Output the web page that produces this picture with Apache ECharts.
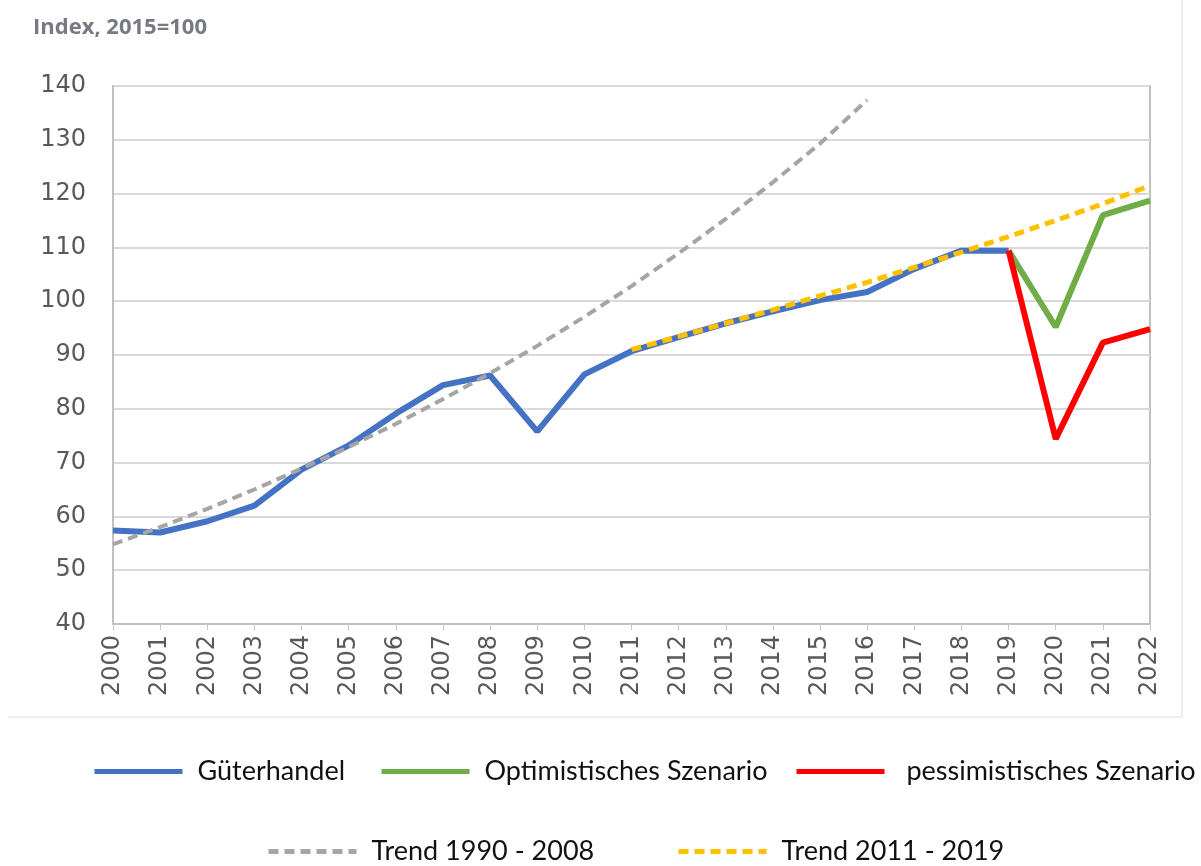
<!DOCTYPE html>
<html><head><meta charset="utf-8">
<script src="https://cdn.jsdelivr.net/npm/echarts@6/dist/echarts.min.js"></script>
<style>html,body{margin:0;padding:0;background:#fff}#c{width:1201px;height:866px}</style>
</head><body><div id="c"></div>
<script>
const years = ['2000','2001','2002','2003','2004','2005','2006','2007','2008','2009','2010','2011','2012','2013','2014','2015','2016','2017','2018','2019','2020','2021','2022'];
const gueterhandel = [57.4,57.0,59.1,62.0,68.7,73.2,79.1,84.4,86.2,75.8,86.4,90.7,93.3,95.9,98.1,100.2,101.7,106.0,109.4,109.4];
const optimistischYears = ['2019','2020','2021','2022'];
const optimistisch = [109.4,95.2,116.0,118.7];
const pessimistischYears = ['2019','2020','2021','2022'];
const pessimistisch = [109.4,74.4,92.3,94.8];
const trend1Years = ['2000','2001','2002','2003','2004','2005','2006','2007','2008','2009','2010','2011','2012','2013','2014','2015','2016'];
const trend1 = [54.8,58.0,61.4,65.0,68.9,72.9,77.2,81.8,86.6,91.7,97.1,102.8,108.9,115.3,122.1,129.3,137.4];
const trend2Years = ['2011','2012','2013','2014','2015','2016','2017','2018','2019','2020','2021','2022'];
const trend2 = [91.0,93.4,95.9,98.4,101.0,103.5,106.3,109.1,112.0,115.0,118.1,121.5];
const yTicks = {min:40, max:140, interval:10};
const seriesNames = ['Güterhandel','Optimistisches Szenario',' pessimistisches Szenario','Trend 1990 - 2008','Trend 2011 - 2019'];

function pairs(ys, vs){ return ys.map((y,i)=>[y, vs[i]]); }
const legendFont = 'Lato, "Open Sans", sans-serif';
const axisFont = '"DejaVu Sans", sans-serif';

const legendPos = [[92,758],[379,758],[794,758],[266,838],[676,838]];
const legends = seriesNames.map((n,i)=>({
  data:[n], left:legendPos[i][0], top:legendPos[i][1], padding:0, itemWidth:88, itemHeight:14,
  itemStyle:{color:'rgba(0,0,0,0)', borderColor:'rgba(0,0,0,0)', borderWidth:0, opacity:0},
  lineStyle:{width:5},
  textStyle:{fontSize:27, color:'#111', fontFamily:legendFont, padding:[0,0,0,10]}
}));

const chart = echarts.init(document.getElementById('c'), null, {renderer:'canvas'});
chart.setOption({
  animation:false,
  backgroundColor:'#ffffff',
  title:{text:'Index, 2015=100', left:28, top:12, textStyle:{fontSize:22, fontWeight:'bold', color:'#777a80', fontFamily:'"Open Sans", sans-serif'}},
  grid:{left:113, right:51, top:86, bottom:242, show:true, borderColor:'#c0c0c0', borderWidth:2, backgroundColor:'transparent'},
  legend:legends,
  xAxis:{type:'category', data:years, boundaryGap:false,
    axisLine:{show:true, lineStyle:{color:'#c0c0c0', width:2}},
    axisTick:{show:true, length:6, lineStyle:{color:'#c8c8c8'}},
    axisLabel:{rotate:90, fontSize:24, color:'#595959', margin:11, fontFamily:axisFont, interval:0},
    splitLine:{show:false}},
  yAxis:{type:'value', min:yTicks.min, max:yTicks.max, interval:yTicks.interval,
    axisLine:{show:true, lineStyle:{color:'#c0c0c0', width:2}},
    axisTick:{show:false},
    axisLabel:{fontSize:24, color:'#595959', margin:27, fontFamily:axisFont},
    splitLine:{show:true, lineStyle:{color:'#d9d9d9', width:2}}},
  series:[
    {name:seriesNames[0], type:'line', data:pairs(years.slice(0,gueterhandel.length), gueterhandel), showSymbol:false, symbol:'none',
     lineStyle:{color:'#4472c4', width:6}, itemStyle:{color:'#4472c4'}, z:2},
    {name:seriesNames[1], type:'line', data:pairs(optimistischYears, optimistisch), symbol:'none',
     lineStyle:{color:'#70ad47', width:6}, itemStyle:{color:'#70ad47'}, z:2},
    {name:seriesNames[2], type:'line', data:pairs(pessimistischYears, pessimistisch), symbol:'none',
     lineStyle:{color:'#ff0000', width:6}, itemStyle:{color:'#ff0000'}, z:3},
    {name:seriesNames[3], type:'line', data:pairs(trend1Years, trend1), symbol:'none',
     lineStyle:{color:'#a5a5a5', width:4, type:[10,6]}, itemStyle:{color:'#a5a5a5'}, z:4},
    {name:seriesNames[4], type:'line', data:pairs(trend2Years, trend2), symbol:'none',
     lineStyle:{color:'#ffc000', width:5, type:[10,6]}, itemStyle:{color:'#ffc000'}, z:4}
  ],
  graphic:[
    {type:'line', shape:{x1:8, y1:717, x2:1182, y2:717}, style:{stroke:'#eeeeee', lineWidth:2}, silent:true},
    {type:'line', shape:{x1:1182, y1:0, x2:1182, y2:717}, style:{stroke:'#eeeeee', lineWidth:2}, silent:true}
  ]
});
</script></body></html>
